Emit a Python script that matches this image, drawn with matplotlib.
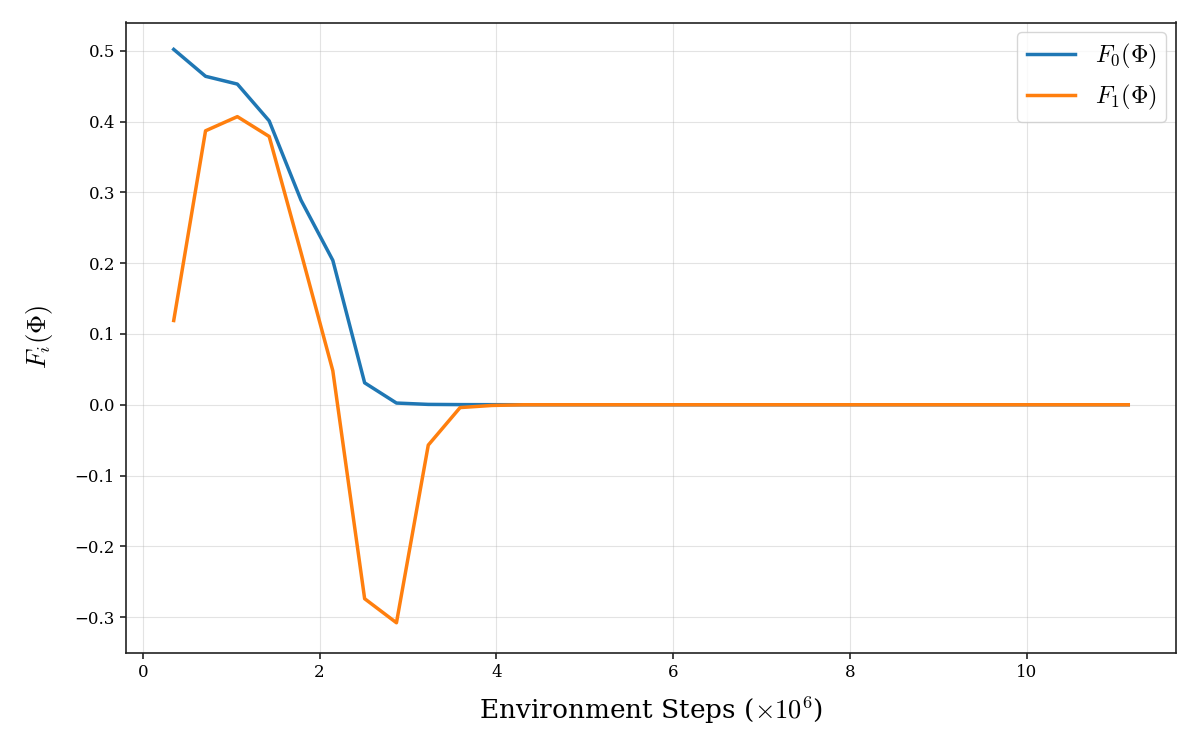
import matplotlib
matplotlib.use("Agg")
import matplotlib.pyplot as plt
import numpy as np

plt.rcParams['font.family'] = 'DejaVu Serif'
plt.rcParams['mathtext.fontset'] = 'cm'

# environment steps (x 1e6)
steps = [0.35 + 0.36 * k for k in range(31)]

f0 = [0.502, 0.464, 0.453, 0.401, 0.289, 0.204, 0.031, 0.0024, 0.0005, 0.0002,
      0.0001] + [0.0] * 20
f1 = [0.119, 0.387, 0.407, 0.379, 0.215, 0.048, -0.274, -0.308, -0.057, -0.004,
      -0.001] + [0.0] * 20

fig = plt.figure(figsize=(12, 7.5), dpi=100)
ax = fig.add_axes([0.105, 0.13, 0.875, 0.84])

ax.plot(steps, f0, color='#1f77b4', lw=2.5, label=r'$F_0(\Phi)$')
ax.plot(steps, f1, color='#ff7f0e', lw=2.5, label=r'$F_1(\Phi)$')

ax.set_xlabel(r'Environment Steps ($\times 10^6$)', fontsize=19, labelpad=10)
ax.set_ylabel(r'$F_i(\Phi)$', fontsize=19, labelpad=14)
ax.tick_params(labelsize=12, width=1.2, length=4.5, color='#222222')
for s in ax.spines.values():
    s.set_linewidth(1.2)
    s.set_color('#222222')
ax.grid(True, alpha=0.35)
ax.set_xticks([0, 2, 4, 6, 8, 10])
ax.set_yticks(np.arange(-0.3, 0.51, 0.1))
ax.set_ylim(-0.35, 0.54)
ax.legend(fontsize=17.5, loc='upper right', borderaxespad=0.4)

plt.savefig('out.png')
